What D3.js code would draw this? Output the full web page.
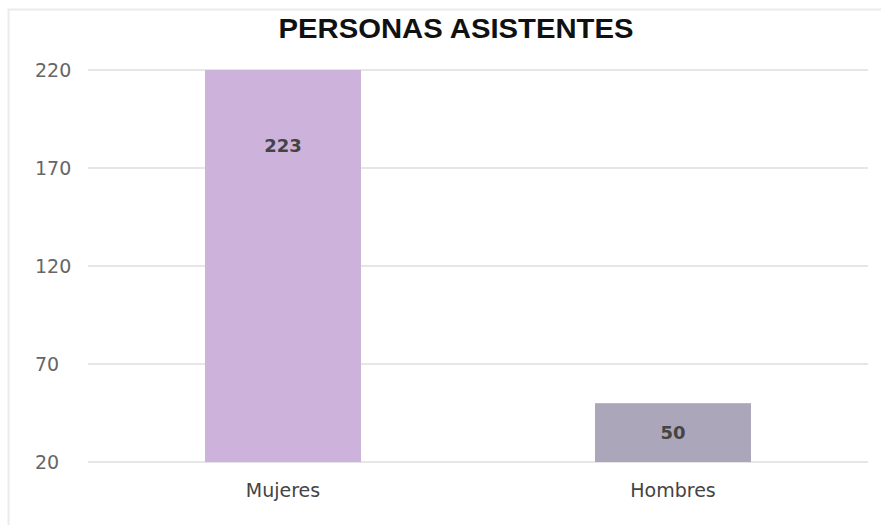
<!DOCTYPE html>
<html>
<head>
<meta charset="utf-8">
<script src="https://cdn.jsdelivr.net/npm/d3@7"></script>
<style>
  html, body { margin: 0; padding: 0; background: #fff; }
  svg { display: block; }
</style>
</head>
<body>
<svg id="chart" width="881" height="525"></svg>
<script>
const title = "PERSONAS ASISTENTES";
const categories = ["Mujeres", "Hombres"];
const values = [223, 50];
const barColors = ["#cdb3dc", "#aba6ba"];
const yTicks = [20, 70, 120, 170, 220];
const yDomain = [20, 220];

const W = 881, H = 525;
const margin = { left: 88, right: 13, top: 70, bottom: 63 };
const svg = d3.select("#chart");

// card border
svg.append("rect")
  .attr("x", 8.5).attr("y", 9.5)
  .attr("width", W + 20).attr("height", H + 20)
  .attr("fill", "#fff").attr("stroke", "#ebebeb").attr("stroke-width", 2);

const x = d3.scaleBand().domain(categories).range([margin.left, W - margin.right]).padding(0);
const y = d3.scaleLinear().domain(yDomain).range([H - margin.bottom, margin.top]);

// gridlines
svg.append("g").selectAll("line").data(yTicks).join("line")
  .attr("x1", margin.left).attr("x2", W - margin.right)
  .attr("y1", d => y(d)).attr("y2", d => y(d))
  .attr("stroke", "#e6e6e6").attr("stroke-width", 2);

// y tick labels (left aligned)
svg.append("g").selectAll("text").data(yTicks).join("text")
  .attr("x", 35).attr("y", d => y(d))
  .attr("dy", "0.36em")
  .attr("text-anchor", "start")
  .attr("font-family", "DejaVu Sans, sans-serif")
  .attr("font-size", 19)
  .attr("fill", "#666")
  .text(d => d);

// bars
const bw = x.bandwidth() * 0.4;
const data = categories.map((c, i) => ({ c, v: values[i], color: barColors[i] }));
const clampV = v => Math.min(Math.max(v, yDomain[0]), yDomain[1]);

svg.append("g").selectAll("rect").data(data).join("rect")
  .attr("x", d => x(d.c) + x.bandwidth() / 2 - bw / 2)
  .attr("width", bw)
  .attr("y", d => y(clampV(d.v)))
  .attr("height", d => y(yDomain[0]) - y(clampV(d.v)))
  .attr("fill", d => d.color);

// value labels
svg.append("g").selectAll("text").data(data).join("text")
  .attr("x", d => x(d.c) + x.bandwidth() / 2)
  .attr("y", d => {
    const top = y(clampV(d.v));
    const h = y(yDomain[0]) - top;
    return top + Math.min(h / 2, 76);
  })
  .attr("dy", "0.36em")
  .attr("text-anchor", "middle")
  .attr("font-family", "DejaVu Sans, sans-serif")
  .attr("font-weight", "bold")
  .attr("font-size", 18)
  .attr("fill", "#444")
  .text(d => d.v);

// category labels
svg.append("g").selectAll("text").data(categories).join("text")
  .attr("x", d => x(d) + x.bandwidth() / 2)
  .attr("y", H - margin.bottom + 28)
  .attr("dy", "0.36em")
  .attr("text-anchor", "middle")
  .attr("font-family", "DejaVu Sans, sans-serif")
  .attr("font-size", 19)
  .attr("fill", "#444")
  .text(d => d);

// title
svg.append("text")
  .attr("x", 456).attr("y", 38)
  .attr("text-anchor", "middle")
  .attr("font-family", "Liberation Sans, Arial, sans-serif")
  .attr("font-weight", "bold")
  .attr("font-size", 28)
  .attr("textLength", 355)
  .attr("lengthAdjust", "spacingAndGlyphs")
  .attr("fill", "#111")
  .text(title);
</script>
</body>
</html>
